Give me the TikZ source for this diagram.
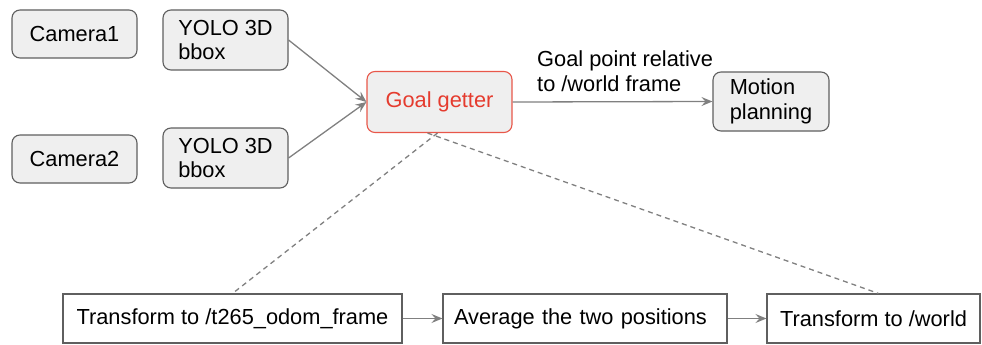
\documentclass[tikz,border=0pt]{standalone}
\usepackage{fontspec}
\setmainfont{Liberation Sans}
\usetikzlibrary{arrows.meta,calc}
\definecolor{boxfill}{HTML}{EFEFEF}
\definecolor{boxline}{HTML}{5F5F5F}
\definecolor{conn}{HTML}{808080}
\definecolor{goalred}{HTML}{E8574A}
\definecolor{goaltext}{HTML}{E53B2E}
\tikzset{
  every node/.style={font=\fontsize{21.8}{24.5}\selectfont, inner sep=0pt},
  rbox/.style={draw=boxline, fill=boxfill, rounded corners=8pt, line width=1.1pt, align=left},
  gbox/.style={draw=goalred, fill=boxfill, rounded corners=8pt, line width=1.1pt, text=goaltext},
  sbox/.style={draw=boxline, line width=1.1pt, align=center},
  arr/.style={draw=conn, line width=1.3pt, -{Stealth[length=11pt,width=9pt,inset=4pt]}},
  dashline/.style={draw=conn, line width=1.3pt, dash pattern=on 5pt off 4pt}
}
\begin{document}
\begin{tikzpicture}[x=1pt,y=-1pt]
\useasboundingbox (0,0) rectangle (982,345);
\node[rbox, minimum width=125, minimum height=48] (cam1) at (74.5,34) {Camera1};
\node[rbox, minimum width=125, minimum height=60] (yolo1) at (225.5,40) {YOLO 3D\\bbox};
\node[rbox, minimum width=125, minimum height=48] (cam2) at (74.5,159) {Camera2};
\node[rbox, minimum width=125, minimum height=60] (yolo2) at (225.5,158) {YOLO 3D\\bbox};
\node[gbox, minimum width=145, minimum height=61] (goal) at (439.5,102) {Goal getter};
\node[rbox, minimum width=116, minimum height=59] (motion) at (771,101.5) {Motion\\planning};
\node[anchor=west, align=left] (lbl) at (537,71) {Goal point relative\\to /world frame};
\node[sbox, minimum width=339, minimum height=49] (b1) at (232.5,318.5) {Transform to /t265\_odom\_frame};
\node[sbox, align=left, text width=262pt, inner xsep=11pt, minimum height=49] (b2) at (585,318.5) {Average the two positions};
\node[sbox, minimum width=213, minimum height=49] (b3) at (873.5,318.5) {Transform to /world};
\coordinate (gl) at ($(goal.south)+(-2,0)$);
\coordinate (gr) at ($(goal.south)+(-12,0)$);
\coordinate (b3t) at ($(b3.north)+(5,0)$);
\draw[arr] (yolo1.east) -- (goal.west);
\draw[arr] (yolo2.east) -- (goal.west);
\draw[arr] (goal.east) -- (motion.west);
\draw[arr] (b1.east) -- (b2.west);
\draw[arr] (b2.east) -- (b3.west);
\draw[dashline] (gl) -- (b1.north);
\draw[dashline] (gr) -- (b3t);
\end{tikzpicture}
\end{document}
